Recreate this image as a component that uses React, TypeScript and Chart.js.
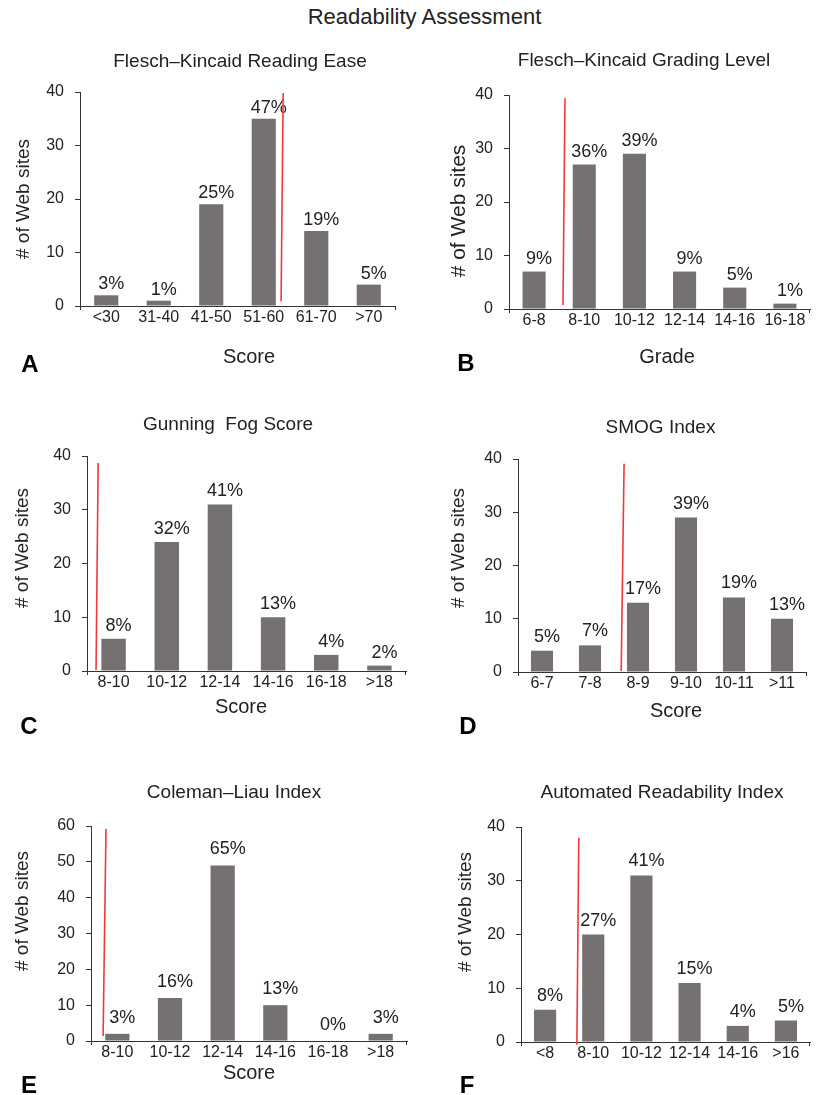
import React, { useEffect, useRef } from 'react';
import { Chart, registerables } from 'chart.js';

Chart.register(...registerables);

const FONT = "'Liberation Sans', Arial, Helvetica, sans-serif";
const BAR = '#767171';
const INK = '#222222';
const RED = '#f03a3a';

// ---------- data ----------
const catsA = ['<30', '31-40', '41-50', '51-60', '61-70', '>70'];
const valsA = [2, 1, 19, 35, 14, 4];
const pctA = ['3%', '1%', '25%', '47%', '19%', '5%'];
const redA = [[3.33, 0.9], [3.37, 39.8]];

const catsB = ['6-8', '8-10', '10-12', '12-14', '14-16', '16-18'];
const valsB = [7, 27, 29, 7, 4, 1];
const pctB = ['9%', '36%', '39%', '9%', '5%', '1%'];
const redB = [[0.576, 0.75], [0.616, 39.4]];

const catsC = ['8-10', '10-12', '12-14', '14-16', '16-18', '>18'];
const valsC = [6, 24, 31, 10, 3, 1];
const pctC = ['8%', '32%', '41%', '13%', '4%', '2%'];
const redC = [[-0.33, 0.2], [-0.29, 38.7]];

const catsD = ['6-7', '7-8', '8-9', '9-10', '10-11', '>11'];
const valsD = [4, 5, 13, 29, 14, 10];
const pctD = ['5%', '7%', '17%', '39%', '19%', '13%'];
const redD = [[1.65, 0.2], [1.71, 39.1]];

const catsE = ['8-10', '10-12', '12-14', '14-16', '16-18', '>18'];
const valsE = [2, 12, 49, 10, 0, 2];
const pctE = ['3%', '16%', '65%', '13%', '0%', '3%'];
const redE = [[-0.27, 1.4], [-0.215, 59.2]];

const catsF = ['<8', '8-10', '10-12', '12-14', '14-16', '>16'];
const valsF = [6, 20, 31, 11, 3, 4];
const pctF = ['8%', '27%', '41%', '15%', '4%', '5%'];
const redF = [[0.66, -0.5], [0.70, 38]];

const yMaxes = [40, 40, 40, 40, 60, 40];

// ---------- layout ----------
const Y_AXIS_W = 40;
const X_AXIS_H = 30;

type Txt = { text: string; x: number; y: number; size?: number };
type Panel = {
  cats: string[];
  vals: number[];
  pct: string[];
  red: number[][];
  max: number;
  cell: { x: number; y: number; w: number; h: number };
  plot: { l: number; t: number; r: number; b: number };
  gap: number;
  title: Txt;
  xTitle: Txt | null;
  yTitle: Txt;
  letter: Txt;
};

const panels: Panel[] = [
  {
    cats: catsA, vals: valsA, pct: pctA, red: redA, max: yMaxes[0],
    cell: { x: 0, y: 30, w: 411, h: 350 },
    plot: { l: 80, t: 92, r: 395, b: 306 },
    gap: 6,
    title: { text: 'Flesch–Kincaid Reading Ease', x: 240, y: 67 },
    xTitle: { text: 'Score', x: 249, y: 363 },
    yTitle: { text: '# of Web sites', x: 24, y: 199, size: 19 },
    letter: { text: 'A', x: 30, y: 372 },
  },
  {
    cats: catsB, vals: valsB, pct: pctB, red: redB, max: yMaxes[1],
    cell: { x: 411, y: 30, w: 411, h: 350 },
    plot: { l: 509, t: 95, r: 810, b: 309 },
    gap: 8,
    title: { text: 'Flesch–Kincaid Grading Level', x: 644, y: 66 },
    xTitle: { text: 'Grade', x: 667, y: 363 },
    yTitle: { text: '# of Web sites', x: 459, y: 211, size: 21 },
    letter: { text: 'B', x: 466, y: 371 },
  },
  {
    cats: catsC, vals: valsC, pct: pctC, red: redC, max: yMaxes[2],
    cell: { x: 0, y: 380, w: 411, h: 360 },
    plot: { l: 87, t: 456, r: 406, b: 671 },
    gap: 8,
    title: { text: 'Gunning  Fog Score', x: 228, y: 430 },
    xTitle: { text: 'Score', x: 241, y: 713 },
    yTitle: { text: '# of Web sites', x: 22.5, y: 548, size: 19 },
    letter: { text: 'C', x: 29, y: 734 },
  },
  {
    cats: catsD, vals: valsD, pct: pctD, red: redD, max: yMaxes[3],
    cell: { x: 411, y: 380, w: 411, h: 360 },
    plot: { l: 518, t: 459, r: 806, b: 672 },
    gap: 9,
    title: { text: 'SMOG Index', x: 660.5, y: 433 },
    xTitle: { text: 'Score', x: 676, y: 717 },
    yTitle: { text: '# of Web sites', x: 459, y: 548, size: 19 },
    letter: { text: 'D', x: 468, y: 734 },
  },
  {
    cats: catsE, vals: valsE, pct: pctE, red: redE, max: yMaxes[4],
    cell: { x: 0, y: 740, w: 411, h: 355 },
    plot: { l: 91, t: 826, r: 407, b: 1041 },
    gap: 11,
    title: { text: 'Coleman–Liau Index', x: 234, y: 798 },
    xTitle: { text: 'Score', x: 249, y: 1079 },
    yTitle: { text: '# of Web sites', x: 23, y: 911, size: 19 },
    letter: { text: 'E', x: 29, y: 1093 },
  },
  {
    cats: catsF, vals: valsF, pct: pctF, red: redF, max: yMaxes[5],
    cell: { x: 411, y: 740, w: 411, h: 355 },
    plot: { l: 521, t: 827, r: 810, b: 1042 },
    gap: 9,
    title: { text: 'Automated Readability Index', x: 662, y: 798 },
    xTitle: null,
    yTitle: { text: '# of Web sites', x: 466, y: 912, size: 19 },
    letter: { text: 'F', x: 467, y: 1093 },
  },
];

function PanelChart({ p }: { p: Panel }) {
  const ref = useRef<HTMLCanvasElement | null>(null);

  useEffect(() => {
    const canvas = ref.current;
    if (!canvas) return;
    const ox = p.cell.x;
    const oy = p.cell.y;

    const overlay = {
      id: 'overlay',
      afterDatasetsDraw(chart: any) {
        const ctx = chart.ctx as CanvasRenderingContext2D;
        const xs = chart.scales.x;
        const ys = chart.scales.y;
        ctx.save();
        // percent labels
        ctx.fillStyle = INK;
        ctx.font = `18px ${FONT}`;
        ctx.textAlign = 'center';
        ctx.textBaseline = 'alphabetic';
        chart.getDatasetMeta(0).data.forEach((el: any, i: number) => {
          ctx.fillText(p.pct[i], el.x + 5, el.y - p.gap);
        });
        // red reference line
        ctx.strokeStyle = RED;
        ctx.lineWidth = 1.6;
        ctx.beginPath();
        ctx.moveTo(xs.getPixelForValue(p.red[0][0]), ys.getPixelForValue(p.red[0][1]));
        ctx.lineTo(xs.getPixelForValue(p.red[1][0]), ys.getPixelForValue(p.red[1][1]));
        ctx.stroke();
        // panel title
        ctx.fillStyle = INK;
        ctx.font = `19px ${FONT}`;
        ctx.fillText(p.title.text, p.title.x - ox, p.title.y - oy);
        // x title
        if (p.xTitle) {
          ctx.font = `20px ${FONT}`;
          ctx.fillText(p.xTitle.text, p.xTitle.x - ox, p.xTitle.y - oy);
        }
        // y title
        ctx.save();
        ctx.translate(p.yTitle.x - ox, p.yTitle.y - oy);
        ctx.rotate(-Math.PI / 2);
        ctx.font = `${p.yTitle.size || 19}px ${FONT}`;
        ctx.textBaseline = 'middle';
        ctx.fillText(p.yTitle.text, 0, 0);
        ctx.restore();
        // letter
        ctx.fillStyle = '#000';
        ctx.font = `bold 24px ${FONT}`;
        ctx.textAlign = 'center';
        ctx.textBaseline = 'alphabetic';
        ctx.fillText(p.letter.text, p.letter.x - ox, p.letter.y - oy);
        ctx.restore();
      },
    };

    const nCats = p.cats.length;
    const chart = new Chart(canvas, {
      type: 'bar',
      data: {
        labels: p.cats,
        datasets: [
          {
            data: p.vals,
            backgroundColor: BAR,
            borderWidth: 0,
            barPercentage: 0.46,
            categoryPercentage: 1,
          },
        ],
      },
      options: {
        responsive: false,
        animation: false,
        events: [],
        layout: {
          padding: {
            left: p.plot.l - ox - Y_AXIS_W,
            top: p.plot.t - oy,
            right: ox + p.cell.w - p.plot.r,
            bottom: oy + p.cell.h - p.plot.b - X_AXIS_H,
          },
        },
        plugins: {
          legend: { display: false },
          title: { display: false },
          tooltip: { enabled: false },
        },
        scales: {
          x: {
            offset: true,
            afterFit: (s: any) => {
              s.height = X_AXIS_H;
            },
            grid: {
              offset: true,
              drawOnChartArea: false,
              drawTicks: true,
              tickLength: 4,
              color: (c: any) =>
                c.type === 'scale' || c.index === 0 || c.index === undefined || c.index >= nCats
                  ? '#333333'
                  : 'rgba(0,0,0,0)',
            },
            border: { display: true, color: '#333333', width: 1 },
            ticks: {
              color: INK,
              font: { family: FONT, size: 16 },
              padding: -2,
              maxRotation: 0,
              autoSkip: false,
            },
          },
          y: {
            min: 0,
            max: p.max,
            afterFit: (s: any) => {
              s.width = Y_AXIS_W;
            },
            grid: {
              drawOnChartArea: false,
              drawTicks: true,
              tickLength: 5,
              color: '#333333',
            },
            border: { display: true, color: '#333333', width: 1 },
            ticks: {
              stepSize: 10,
              color: INK,
              font: { family: FONT, size: 16 },
              padding: 11,
            },
          },
        },
      },
      plugins: [overlay],
    } as any);

    return () => chart.destroy();
  }, [p]);

  return (
    <canvas
      ref={ref}
      width={p.cell.w}
      height={p.cell.h}
      style={{ position: 'absolute', left: p.cell.x, top: p.cell.y, width: p.cell.w, height: p.cell.h }}
    />
  );
}

export default function App() {
  return (
    <div
      style={{
        position: 'absolute',
        left: 0,
        top: 0,
        width: 822,
        height: 1095,
        background: '#ffffff',
        overflow: 'hidden',
      }}
    >
      <div
        style={{
          position: 'absolute',
          left: 0,
          top: 6,
          width: 849,
          textAlign: 'center',
          fontFamily: FONT,
          fontSize: 22,
          lineHeight: '22px',
          color: INK,
        }}
      >
        Readability Assessment
      </div>
      {panels.map((p, i) => (
        <PanelChart key={i} p={p} />
      ))}
    </div>
  );
}
